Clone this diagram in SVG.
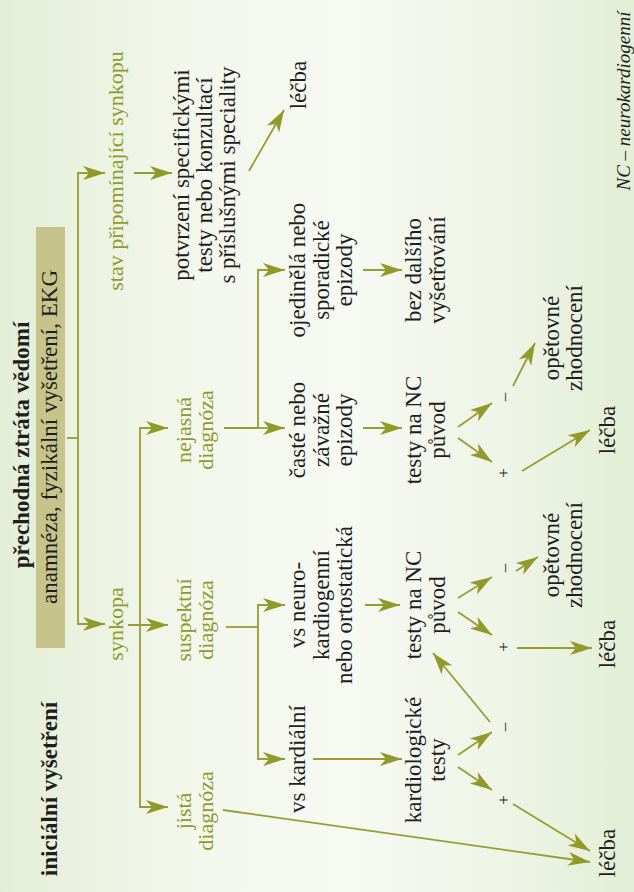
<svg xmlns="http://www.w3.org/2000/svg" width="634" height="892" viewBox="0 0 634 892">
<defs>
<linearGradient id="bg" x1="0" y1="0" x2="1" y2="0">
<stop offset="0" stop-color="#e4eed7"/>
<stop offset="0.3" stop-color="#f3f7ec"/>
<stop offset="0.55" stop-color="#f7f9f3"/>
<stop offset="0.8" stop-color="#eef4e6"/>
<stop offset="1" stop-color="#e3eed5"/>
</linearGradient>
<marker id="ah" viewBox="0 -8 24 16" markerWidth="24" markerHeight="16" refX="22" refY="0" markerUnits="userSpaceOnUse" orient="auto" overflow="visible">
<path d="M0,-7 L22,0 L0,7 L6,0 Z" fill="#8f9a28"/>
</marker>
<style>
text{font-family:'Liberation Serif','Times New Roman','DejaVu Serif','Noto Serif',serif}
.t{font-size:23px;fill:#1e1e1e;text-anchor:middle}
.g{fill:#8c9b2c;font-size:22px}
.b{font-weight:bold}
.s{font-size:17px}
.i{font-style:italic;font-size:19px}
.c path{fill:none;stroke:#949f30;stroke-width:1.8}
.c .a{marker-end:url(#ah)}
</style>
</defs>
<rect x="0" y="0" width="634" height="892" fill="url(#bg)"/>
<rect id="bar" x="36" y="227" width="29" height="421" fill="#c6c48b"/>
<g class="c" id="connectors">
<path d="M67,438 H78"/>
<path class="a" d="M78,438 V173 H105"/>
<path class="a" d="M78,438 V624 H105"/>
<path class="a" d="M134,173 H172"/>
<path class="a" d="M249,171 L284,110"/>
<path d="M128,625 H140"/>
<path class="a" d="M140,625 V428 H168"/>
<path class="a" d="M128,625 H168"/>
<path class="a" d="M140,625 V807 H168"/>
<path d="M224,428 H258"/>
<path class="a" d="M258,428 V270 H285"/>
<path class="a" d="M258,428 H285"/>
<path class="a" d="M363,270 H402"/>
<path class="a" d="M363,428 H402"/>
<path class="a" d="M458,427 L492,403"/>
<path class="a" d="M458,438 L492,462"/>
<path class="a" d="M513,386 L535,343"/>
<path class="a" d="M522,471 L590,430"/>
<path d="M226,627 H258"/>
<path class="a" d="M258,627 V605 H285"/>
<path class="a" d="M258,627 V759 H285"/>
<path class="a" d="M365,605 H400"/>
<path class="a" d="M313,759 H402"/>
<path class="a" d="M458,598 L492,577"/>
<path class="a" d="M458,612 L492,635"/>
<path class="a" d="M516,571 L538,557"/>
<path class="a" d="M517,648 H592"/>
<path class="a" d="M458,755 L492,732"/>
<path class="a" d="M458,767 L492,790"/>
<path class="a" d="M490,722 L433,653"/>
<path class="a" d="M513,804 L590,851"/>
<path class="a" d="M223,810 L590,862"/>
</g>
<g transform="translate(0,892) rotate(-90)" font-family="Liberation Serif, DejaVu Serif, serif">
<g id="title"><text class="t b" x="447" y="29">přechodná ztráta vědomí</text></g>
<g id="initial"><text class="t b" x="103" y="57">iniciální vyšetření</text></g>
<g id="anamneza"><text class="t" x="455" y="57">anamnéza, fyzikální vyšetření, EKG</text></g>
<g id="stav"><text class="t g" x="721" y="123">stav připomínající synkopu</text></g>
<g id="synkopa"><text class="t g" x="268" y="123">synkopa</text></g>
<g id="nejasna"><text class="t g" x="462" y="191">nejasná</text><text class="t g" x="462" y="213">diagnóza</text></g>
<g id="suspektni"><text class="t g" x="272" y="191">suspektní</text><text class="t g" x="272" y="213">diagnóza</text></g>
<g id="jista"><text class="t g" x="81" y="191">jistá</text><text class="t g" x="81" y="213">diagnóza</text></g>
<g id="potvrzeni"><text class="t" x="717" y="189">potvrzení specifickými</text><text class="t" x="717" y="212">testy nebo konzultací</text><text class="t" x="717" y="235">s příslušnými speciality</text></g>
<g id="lecba1"><text class="t" x="807" y="306">léčba</text></g>
<g id="ojedinela"><text class="t" x="622" y="305">ojedinělá nebo</text><text class="t" x="622" y="329">sporadické</text><text class="t" x="622" y="352">epizody</text></g>
<g id="caste"><text class="t" x="462" y="305">časté nebo</text><text class="t" x="462" y="329">závažné</text><text class="t" x="462" y="352">epizody</text></g>
<g id="vsneuro"><text class="t" x="287" y="305">vs neuro-</text><text class="t" x="287" y="329">kardiogenní</text><text class="t" x="287" y="352">nebo ortostatická</text></g>
<g id="vskard"><text class="t" x="133" y="305">vs kardiální</text></g>
<g id="bez"><text class="t" x="622" y="421">bez dalšího</text><text class="t" x="622" y="445">vyšetřování</text></g>
<g id="nc1"><text class="t" x="462" y="421">testy na NC</text><text class="t" x="462" y="445">původ</text></g>
<g id="nc2"><text class="t" x="287" y="421">testy na NC</text><text class="t" x="287" y="445">původ</text></g>
<g id="kardtesty"><text class="t" x="132" y="421">kardiologické</text><text class="t" x="132" y="445">testy</text></g>
<g id="opet1"><text class="t" x="554" y="559">opětovné</text><text class="t" x="554" y="582">zhodnocení</text></g>
<g id="opet2"><text class="t" x="337" y="559">opětovné</text><text class="t" x="337" y="582">zhodnocení</text></g>
<g id="lecba2"><text class="t" x="462" y="615">léčba</text></g>
<g id="lecba3"><text class="t" x="248" y="615">léčba</text></g>
<g id="lecba4"><text class="t" x="39" y="615">léčba</text></g>
<g id="signs">
<text class="t s" x="495" y="509">–</text>
<text class="t s" x="419" y="509">+</text>
<text class="t s" x="324" y="509">–</text>
<text class="t s" x="245" y="509">+</text>
<text class="t s" x="165" y="509">–</text>
<text class="t s" x="92" y="509">+</text>
</g>
<g id="legend"><text class="t i" x="791" y="630">NC – neurokardiogenní</text></g>
</g>
</svg>
